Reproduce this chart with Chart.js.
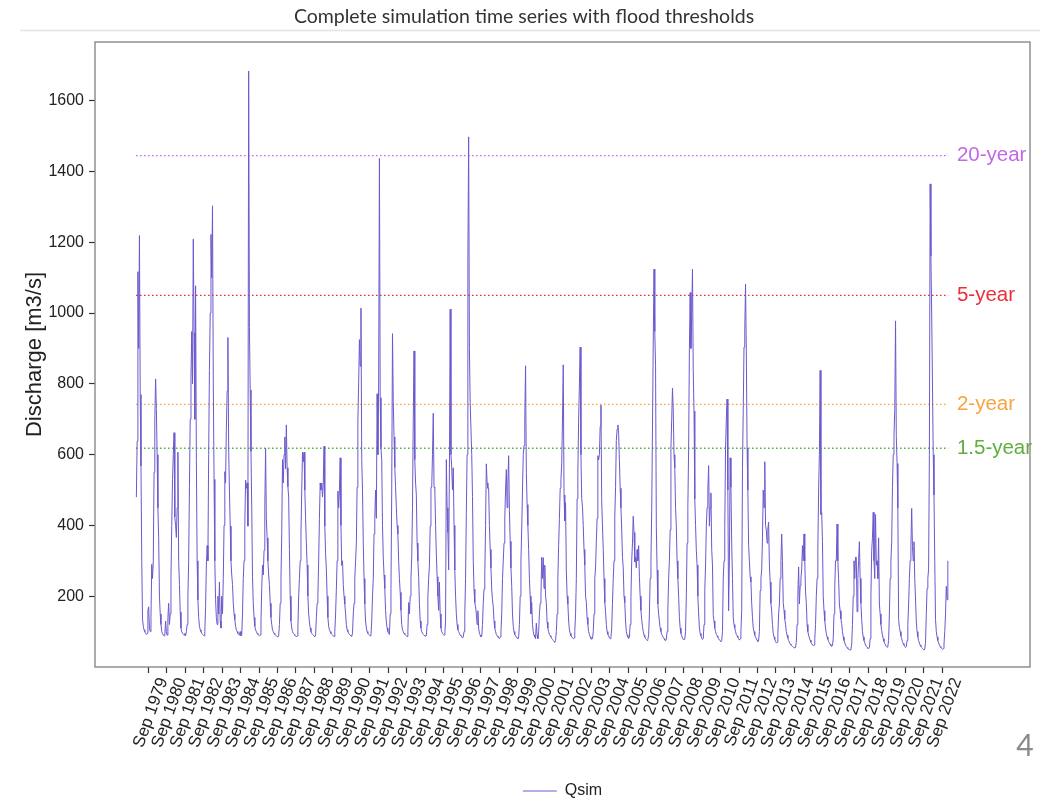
<!DOCTYPE html>
<html>
<head>
<meta charset="utf-8">
<script src="https://cdn.jsdelivr.net/npm/chart.js@4.4.1/dist/chart.umd.min.js"></script>
<style>
  html, body { margin: 0; padding: 0; background: #ffffff; }
  #wrap { width: 1048px; height: 799px; position: relative; }
</style>
</head>
<body>
<div id="wrap"><canvas id="chart" width="1048" height="799"></canvas></div>
<script>
// Simulated discharge, half-monthly values (m3/s), one row per calendar year from 1979.
const startYear = 1979;
const stepsPerYear = 24;

const qsim = [
  480, 638, 1117, 900, 1219, 770, 568, 300, 136, 115, 105, 100, 95, 92, 95, 160, 170, 110, 100, 140, 290, 250, 300, 550,      // 1979
  700, 814, 730, 600, 450, 366, 200, 150, 120, 100, 95, 90, 88, 90, 130, 100, 90, 140, 180, 120, 150, 255, 400, 530,          // 1980
  600, 662, 424, 400, 366, 450, 607, 300, 233, 155, 110, 100, 95, 92, 90, 95, 88, 100, 120, 200, 300, 508, 700, 816,          // 1981
  948, 800, 1209, 944, 700, 1077, 586, 300, 190, 140, 115, 105, 100, 95, 92, 90, 88, 100, 170, 288, 343, 300, 600, 838,       // 1982
  1000, 1222, 1100, 1303, 805, 530, 300, 190, 140, 120, 200, 150, 240, 130, 110, 200, 150, 250, 400, 552, 520, 673, 780, 931, // 1983
  618, 500, 398, 300, 260, 233, 180, 150, 134, 115, 105, 100, 95, 92, 90, 100, 88, 92, 150, 250, 300, 400, 528, 505,          // 1984
  520, 398, 1684, 959, 783, 609, 450, 255, 180, 140, 115, 105, 100, 95, 92, 90, 88, 90, 130, 222, 288, 260, 330, 450,         // 1985
  618, 420, 365, 300, 260, 233, 180, 140, 120, 105, 100, 95, 92, 90, 88, 86, 85, 88, 120, 180, 250, 380, 586, 520,            // 1986
  600, 650, 560, 684, 563, 510, 480, 332, 200, 130, 110, 100, 95, 92, 90, 88, 85, 88, 110, 200, 250, 300, 376, 500,           // 1987
  607, 580, 607, 500, 420, 350, 288, 200, 150, 127, 110, 100, 95, 92, 90, 88, 86, 90, 140, 180, 200, 300, 420, 520,           // 1988
  500, 520, 480, 517, 624, 398, 320, 277, 200, 140, 115, 105, 100, 95, 92, 90, 88, 86, 100, 150, 220, 300, 497, 450,          // 1989
  500, 591, 400, 287, 300, 233, 200, 178, 150, 120, 105, 100, 95, 92, 90, 88, 86, 95, 150, 180, 250, 300, 350, 508,           // 1990
  695, 800, 925, 850, 1014, 586, 497, 350, 250, 178, 130, 110, 100, 95, 92, 90, 88, 90, 130, 200, 250, 376, 420, 500,         // 1991
  420, 772, 600, 800, 1437, 761, 620, 586, 400, 310, 260, 222, 160, 127, 110, 100, 95, 92, 150, 222, 500, 942, 750, 650,      // 1992
  564, 508, 450, 400, 376, 300, 250, 211, 160, 120, 105, 100, 95, 92, 90, 88, 86, 100, 182, 150, 200, 250, 310, 450,          // 1993
  700, 893, 586, 520, 487, 350, 300, 255, 180, 130, 110, 100, 95, 92, 90, 88, 86, 88, 120, 200, 250, 286, 398, 508,           // 1994
  508, 600, 717, 508, 505, 400, 320, 255, 200, 160, 240, 150, 110, 100, 95, 92, 90, 92, 130, 586, 450, 380, 274, 560,         // 1995
  1011, 600, 563, 500, 563, 400, 274, 200, 150, 120, 105, 100, 95, 90, 88, 85, 82, 85, 100, 150, 250, 436, 600, 1152,         // 1996
  1498, 900, 747, 747, 600, 482, 300, 220, 182, 170, 150, 120, 159, 110, 95, 90, 85, 88, 120, 180, 220, 263, 400, 574,        // 1997
  520, 505, 505, 400, 332, 280, 220, 190, 170, 130, 110, 100, 92, 88, 85, 82, 80, 85, 100, 150, 250, 300, 350, 424,           // 1998
  500, 558, 450, 520, 597, 442, 355, 280, 228, 150, 115, 100, 92, 88, 85, 82, 80, 85, 120, 200, 300, 390, 500, 600,           // 1999
  626, 700, 851, 550, 459, 400, 332, 250, 200, 150, 182, 120, 100, 90, 85, 80, 124, 90, 80, 100, 150, 180, 200, 310,          // 2000
  250, 309, 222, 288, 200, 182, 127, 110, 100, 92, 88, 85, 80, 78, 75, 72, 70, 75, 100, 150, 250, 343, 420, 505,              // 2001
  530, 574, 700, 854, 486, 413, 464, 274, 200, 178, 130, 105, 95, 88, 85, 82, 80, 82, 100, 150, 250, 475, 550, 700,           // 2002
  800, 904, 600, 475, 453, 400, 332, 288, 200, 182, 140, 120, 100, 92, 85, 80, 78, 80, 100, 150, 250, 280, 354, 420,          // 2003
  597, 585, 600, 680, 740, 470, 398, 332, 250, 182, 156, 120, 100, 92, 88, 82, 80, 85, 110, 180, 250, 300, 424, 508,          // 2004
  640, 672, 684, 660, 586, 505, 450, 390, 310, 280, 200, 182, 130, 100, 90, 85, 80, 85, 120, 200, 300, 350, 426, 380,         // 2005
  297, 310, 280, 332, 300, 343, 255, 200, 160, 134, 115, 100, 90, 85, 80, 78, 75, 78, 90, 150, 250, 300, 442, 673,            // 2006
  915, 1124, 948, 851, 398, 274, 178, 150, 130, 110, 100, 92, 88, 84, 80, 76, 74, 78, 100, 160, 250, 300, 387, 618,           // 2007
  700, 788, 727, 600, 563, 450, 398, 300, 250, 200, 140, 110, 95, 88, 82, 78, 78, 80, 100, 200, 350, 450, 618, 900,           // 2008
  1058, 900, 1000, 1124, 838, 723, 475, 400, 330, 288, 200, 150, 110, 95, 88, 82, 78, 80, 120, 216, 288, 398, 450, 500,       // 2009
  569, 398, 450, 492, 332, 288, 145, 130, 110, 100, 92, 88, 84, 80, 76, 74, 72, 75, 100, 251, 300, 398, 618, 700,             // 2010
  757, 500, 159, 300, 591, 508, 350, 250, 139, 120, 110, 100, 92, 88, 84, 80, 76, 80, 100, 159, 561, 727, 904, 950,           // 2011
  1082, 893, 618, 500, 343, 300, 255, 240, 180, 140, 110, 100, 90, 85, 80, 76, 72, 75, 100, 216, 250, 274, 365, 500,          // 2012
  450, 580, 400, 387, 350, 390, 409, 288, 240, 180, 156, 120, 95, 85, 78, 72, 68, 70, 90, 150, 178, 250, 300, 376,            // 2013
  300, 182, 160, 136, 120, 100, 90, 82, 75, 70, 65, 62, 60, 58, 56, 55, 54, 56, 70, 120, 200, 283, 178, 230,                  // 2014
  250, 277, 343, 300, 376, 300, 212, 182, 120, 100, 90, 82, 76, 70, 66, 62, 60, 62, 80, 120, 200, 250, 332, 500,              // 2015
  600, 838, 431, 436, 355, 200, 159, 130, 110, 95, 85, 78, 72, 68, 64, 60, 58, 60, 80, 150, 228, 300, 300, 404,               // 2016
  300, 250, 178, 159, 136, 123, 100, 85, 75, 68, 62, 58, 55, 52, 50, 49, 48, 50, 65, 120, 200, 300, 250, 310,                 // 2017
  310, 156, 250, 300, 354, 250, 180, 134, 100, 85, 75, 68, 62, 58, 55, 53, 52, 55, 80, 200, 330, 365, 437, 300,               // 2018
  250, 431, 288, 300, 250, 365, 178, 150, 120, 103, 90, 80, 72, 66, 62, 58, 56, 58, 75, 150, 250, 300, 354, 508,              // 2019
  600, 655, 727, 978, 652, 575, 450, 134, 112, 100, 88, 80, 72, 66, 62, 58, 55, 58, 75, 120, 178, 250, 300, 343,              // 2020
  448, 340, 300, 354, 250, 189, 130, 100, 85, 75, 68, 62, 58, 55, 52, 50, 48, 50, 70, 150, 222, 250, 277, 600,                // 2021
  1365, 1162, 1000, 805, 600, 486, 300, 134, 100, 85, 75, 68, 62, 58, 55, 52, 50, 52, 65, 100, 150, 228, 190, 300             // 2022
];

// One x tick each September, labelled "Sep YYYY"
const tickYears = [];
for (let y = 1979; y <= 2022; y++) tickYears.push(y);
const tickMonthOffset = 8 / 12;

// Flood return-period thresholds
const thresholdNames  = ['20-year', '5-year', '2-year', '1.5-year'];
const thresholdValues = [1445, 1050, 742, 618];
const thresholdColors = ['#c466e6', '#ec2d3a', '#f7a43f', '#5fae3e'];

const yTicks = [200, 400, 600, 800, 1000, 1200, 1400, 1600];

const seriesStart = startYear;
const seriesEnd = startYear + qsim.length / stepsPerYear;
const labelYear = 2023.47;

const qsimPoints = qsim.map((v, i) => ({ x: startYear + (i + 0.5) / stepsPerYear, y: v }));

const thresholdDatasets = thresholdValues.map((v, k) => ({
  label: thresholdNames[k],
  data: [{ x: seriesStart, y: v }, { x: seriesEnd, y: v }],
  borderColor: thresholdColors[k],
  borderWidth: 1.4,
  borderDash: [1.6, 2.4],
  pointRadius: 0,
  fill: false,
  order: 1
}));

const sansFont = '"Liberation Sans", Arial, sans-serif';

// page geometry
const canvasH = 799;
const plotBottom = 667;
const bottomPad = -10;
const rightGutter = 18;
const legendFont = 16;
const legendPad = 6;
const legendHeight = legendFont + legendPad + 10;

const framePlugin = {
  id: 'frameAndNotes',
  beforeDraw(chart) {
    const ctx = chart.ctx;
    ctx.save();
    ctx.fillStyle = '#ffffff';
    ctx.fillRect(0, 0, chart.width, chart.height);
    // divider under the heading
    ctx.strokeStyle = '#e4e4e4';
    ctx.lineWidth = 1.5;
    ctx.beginPath();
    ctx.moveTo(20, 30.5);
    ctx.lineTo(1040, 30.5);
    ctx.stroke();
    ctx.restore();
  },
  afterDatasetsDraw(chart) {
    const ctx = chart.ctx;
    const xs = chart.scales.x, ys = chart.scales.y;
    const a = chart.chartArea;
    ctx.save();
    ctx.font = '20.5px ' + sansFont;
    ctx.textAlign = 'left';
    ctx.textBaseline = 'middle';
    thresholdValues.forEach((v, k) => {
      ctx.fillStyle = thresholdColors[k];
      ctx.fillText(thresholdNames[k], xs.getPixelForValue(labelYear), ys.getPixelForValue(v));
    });
    // axes frame
    ctx.strokeStyle = '#808080';
    ctx.lineWidth = 1.3;
    ctx.strokeRect(a.left, a.top, a.right - a.left, a.bottom - a.top);
    ctx.restore();
  },
  afterDraw(chart) {
    const ctx = chart.ctx;
    ctx.save();
    ctx.fillStyle = '#8a8a8a';
    ctx.font = '30px Lato, "Open Sans", sans-serif';
    ctx.textAlign = 'center';
    ctx.textBaseline = 'alphabetic';
    ctx.fillText('4', 1025, 756);
    ctx.restore();
  }
};

new Chart(document.getElementById('chart'), {
  type: 'line',
  data: {
    datasets: [
      {
        label: 'Qsim',
        data: qsimPoints,
        borderColor: '#6a5acd',
        backgroundColor: '#6a5acd',
        borderWidth: 1,
        pointRadius: 0,
        tension: 0,
        fill: false,
        order: 0
      },
      ...thresholdDatasets
    ]
  },
  options: {
    responsive: false,
    animation: false,
    devicePixelRatio: 1,
    layout: { padding: { left: 0, right: 0, top: 0, bottom: bottomPad } },
    plugins: {
      title: {
        display: true,
        text: 'Complete simulation time series with flood thresholds',
        font: { family: 'Lato, "Open Sans", sans-serif', size: 19.5, weight: 'normal' },
        color: '#333333',
        padding: { top: 5.5, bottom: 13.1 }
      },
      legend: {
        display: true,
        position: 'bottom',
        fullSize: false,
        labels: {
          filter: (item) => item.datasetIndex === 0,
          usePointStyle: true,
          pointStyle: 'line',
          pointStyleWidth: 34,
          font: { family: sansFont, size: legendFont },
          color: '#222222',
          padding: legendPad
        }
      },
      tooltip: { enabled: false }
    },
    scales: {
      x: {
        type: 'linear',
        min: 1976.78,
        max: 2027.43,
        afterBuildTicks: (scale) => {
          scale.ticks = tickYears.map(y => ({ value: y + tickMonthOffset }));
        },
        afterFit: (scale) => {
          scale.height = canvasH - bottomPad - legendHeight - plotBottom;
        },
        ticks: {
          autoSkip: false,
          minRotation: 70,
          maxRotation: 70,
          padding: 2,
          labelOffset: 15,
          color: '#222222',
          font: { family: sansFont, size: 17 },
          callback: (v) => 'Sep ' + Math.floor(v)
        },
        grid: { drawOnChartArea: false, drawTicks: true, tickLength: 6, color: '#333333', tickWidth: 1.2 },
        border: { display: false }
      },
      y: {
        type: 'linear',
        min: 0,
        max: 1766,
        afterBuildTicks: (scale) => {
          scale.ticks = yTicks.map(v => ({ value: v }));
        },
        afterFit: (scale) => { scale.width = 95; },
        ticks: {
          padding: 5,
          color: '#222222',
          font: { family: sansFont, size: 16 },
          callback: (v) => String(v)
        },
        title: {
          display: true,
          text: 'Discharge [m3/s]',
          color: '#222222',
          font: { family: sansFont, size: 22 },
          padding: { top: 22, bottom: 0 }
        },
        grid: { drawOnChartArea: false, drawTicks: true, tickLength: 6, color: '#333333', tickWidth: 1.2 },
        border: { display: false }
      },
      // empty right-hand gutter that holds the threshold labels
      gutter: {
        type: 'linear',
        position: 'right',
        display: true,
        afterFit: (scale) => { scale.width = rightGutter; },
        ticks: { display: false },
        grid: { display: false, drawTicks: false },
        border: { display: false }
      }
    }
  },
  plugins: [framePlugin]
});
</script>
</body>
</html>
